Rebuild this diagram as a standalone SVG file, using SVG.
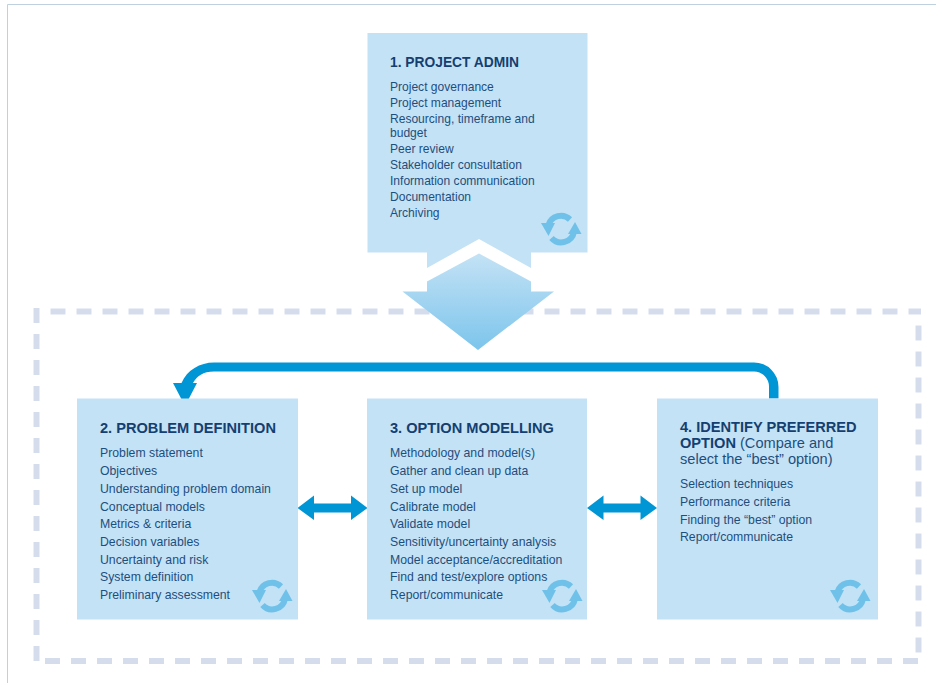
<svg xmlns="http://www.w3.org/2000/svg" xmlns:xlink="http://www.w3.org/1999/xlink" width="936" height="683" viewBox="0 0 936 683">
<style>
text{font-family:"Liberation Sans",Arial,sans-serif;fill:#1d4f7e}
.t{font-size:14.6px;font-weight:bold;fill:#143f70}
.b{font-size:12.25px}
.s{font-size:12.05px}
.box{fill:#c4e2f5}
.dash{fill:none;stroke:#d5dded;stroke-width:6;stroke-dasharray:15 11}
.link{fill:#0096d6}
.cyc{fill:#6fc1ea}
.arc{fill:none;stroke:#6fc1ea;stroke-width:6}
</style>
<defs>
<linearGradient id="g" x1="0" y1="0" x2="0" y2="1"><stop offset="0" stop-color="#c4e2f5"/><stop offset="1" stop-color="#7cc5ec"/></linearGradient>
<g id="cycle">
<path class="arc" d="M-12.500 -4A13 13 0 0 1 9 -9.500"/>
<path class="cyc" d="M-20 -6H-6L-12.500 7Z"/>
<path class="arc" d="M13 3A13 13 0 0 1 -9.500 9"/>
<path class="cyc" d="M7 5H20.500L14 -7Z"/>
</g>
</defs>
<rect width="936" height="683" fill="#fff"/>
<path d="M7.500 683V4.500H936" fill="none" stroke="#bfd0de" stroke-width="1"/>
<g id="boundary">
<path class="dash" d="M50.500 311.500H921"/>
<path class="dash" d="M36.500 308V662"/>
<path class="dash" d="M918.500 325.500V655"/>
<path class="dash" d="M45 661H919"/>
</g>
<g id="connectors">
<path class="link" d="M778.500 398.500V387A24.500 24.500 0 0 0 754 362.500H214C200 362.500 187 370 181.500 383H173L185 406 197 383H193C197 376 203 371.500 214 371.500H754A15 15 0 0 1 769 386.500V398.500Z"/>
<path id="link-2-3" class="link" d="M297.500 508 314 495.500V503.500H351V495.500L367.500 508 351 520V512.500H314V520Z"/>
<path id="link-3-4" class="link" d="M587 508 603.500 495.500V503.500H640.500V495.500L657 508 640.500 520V512.500H603.500V520Z"/>
</g>
<g id="node-1">
<path class="box" d="M367.500 33H587.500V252.500H531V268L479 239 427 268V252.500H367.500Z"/>
<text class="t" x="390" y="67" style="font-size:13.8px">1. PROJECT ADMIN</text>
<text class="s" x="390" y="91">Project governance</text>
<text class="s" x="390" y="107">Project management</text>
<text class="s" x="390" y="123">Resourcing, timeframe and</text>
<text class="s" x="390" y="137">budget</text>
<text class="s" x="390" y="153">Peer review</text>
<text class="s" x="390" y="169">Stakeholder consultation</text>
<text class="s" x="390" y="185">Information communication</text>
<text class="s" x="390" y="201">Documentation</text>
<text class="s" x="390" y="217">Archiving</text>
<use xlink:href="#cycle" href="#cycle" x="561" y="229"/>
</g>
<g id="flow-arrow">
<path fill="url(#g)" d="M479 253.500 531 281.500V291.500H554L478 350 402.500 291.500H427V281.500Z"/>
</g>
<g id="node-2">
<rect class="box" x="77" y="398.500" width="221" height="221"/>
<text class="t" x="100" y="433">2. PROBLEM DEFINITION</text>
<text class="b" x="100" y="457">Problem statement</text>
<text class="b" x="100" y="475">Objectives</text>
<text class="b" x="100" y="493">Understanding problem domain</text>
<text class="b" x="100" y="511">Conceptual models</text>
<text class="b" x="100" y="528">Metrics &amp; criteria</text>
<text class="b" x="100" y="546">Decision variables</text>
<text class="b" x="100" y="564">Uncertainty and risk</text>
<text class="b" x="100" y="581">System definition</text>
<text class="b" x="100" y="599">Preliminary assessment</text>
<use xlink:href="#cycle" href="#cycle" x="272" y="596"/>
</g>
<g id="node-3">
<rect class="box" x="367" y="398.500" width="220" height="221"/>
<text class="t" x="390" y="433">3. OPTION MODELLING</text>
<text class="b" x="390" y="457">Methodology and model(s)</text>
<text class="b" x="390" y="475">Gather and clean up data</text>
<text class="b" x="390" y="493">Set up model</text>
<text class="b" x="390" y="511">Calibrate model</text>
<text class="b" x="390" y="528">Validate model</text>
<text class="b" x="390" y="546">Sensitivity/uncertainty analysis</text>
<text class="b" x="390" y="564">Model acceptance/accreditation</text>
<text class="b" x="390" y="581">Find and test/explore options</text>
<text class="b" x="390" y="599">Report/communicate</text>
<use xlink:href="#cycle" href="#cycle" x="562" y="596"/>
</g>
<g id="node-4">
<rect class="box" x="657" y="398.500" width="221" height="221"/>
<text class="t" x="680" y="432">4. IDENTIFY PREFERRED</text>
<text class="t" x="680" y="448">OPTION <tspan style="font-weight:normal;fill:#1d4f7e">(Compare and</tspan></text>
<text x="680" y="464" style="font-size:14.6px;fill:#1d4f7e">select the “best” option)</text>
<text class="b" x="680" y="488">Selection techniques</text>
<text class="b" x="680" y="506">Performance criteria</text>
<text class="b" x="680" y="524">Finding the “best” option</text>
<text class="b" x="680" y="541">Report/communicate</text>
<use xlink:href="#cycle" href="#cycle" x="850" y="596"/>
</g>
</svg>
